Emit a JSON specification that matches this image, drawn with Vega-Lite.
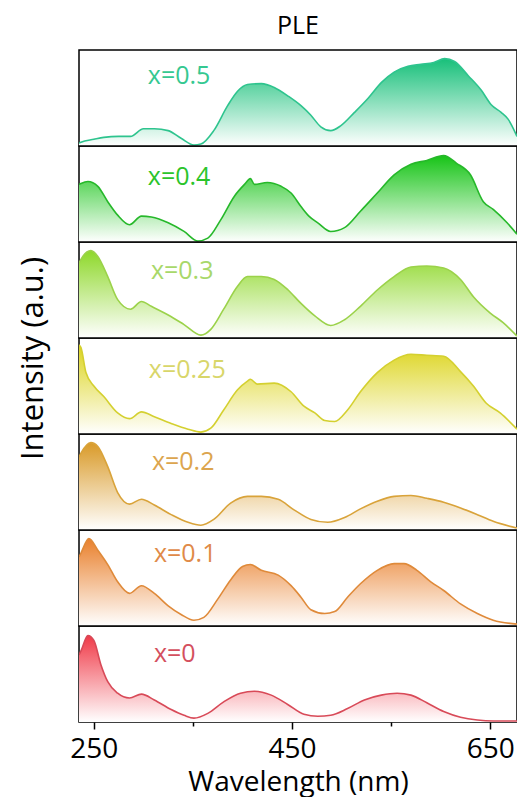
{
  "$schema": "https://vega.github.io/schema/vega-lite/v6.json",
  "padding": {"left": 16, "top": 13, "right": 0, "bottom": 0},
  "background": "white",
  "bounds": "flush",
  "spacing": 0,
  "config": {"view": {"stroke": "black", "strokeWidth": 1.5}, "font": "Open Sans"},
  "datasets": {
    "s05": [{"w":235,"v":0.03},{"w":237,"v":0.04},{"w":250,"v":0.07},{"w":260,"v":0.09},{"w":275,"v":0.10},{"w":287,"v":0.10},{"w":300,"v":0.18},{"w":311,"v":0.18},{"w":325,"v":0.16},{"w":338,"v":0.08},{"w":351,"v":0.01},{"w":358,"v":0.02},{"w":371,"v":0.16},{"w":385,"v":0.42},{"w":395,"v":0.57},{"w":405,"v":0.64},{"w":419,"v":0.65},{"w":432,"v":0.61},{"w":446,"v":0.52},{"w":459,"v":0.42},{"w":469,"v":0.32},{"w":479,"v":0.20},{"w":489,"v":0.16},{"w":499,"v":0.21},{"w":513,"v":0.35},{"w":527,"v":0.50},{"w":540,"v":0.66},{"w":553,"v":0.77},{"w":567,"v":0.83},{"w":580,"v":0.85},{"w":593,"v":0.87},{"w":604,"v":0.91},{"w":614,"v":0.88},{"w":628,"v":0.73},{"w":641,"v":0.58},{"w":651,"v":0.43},{"w":661,"v":0.35},{"w":668,"v":0.28},{"w":677,"v":0.10}],
    "s04": [{"w":235,"v":0.60},{"w":237,"v":0.61},{"w":244,"v":0.63},{"w":254,"v":0.58},{"w":264,"v":0.42},{"w":274,"v":0.28},{"w":286,"v":0.18},{"w":298,"v":0.27},{"w":308,"v":0.26},{"w":325,"v":0.20},{"w":341,"v":0.11},{"w":355,"v":0.01},{"w":365,"v":0.04},{"w":378,"v":0.23},{"w":392,"v":0.48},{"w":402,"v":0.60},{"w":408,"v":0.66},{"w":412,"v":0.60},{"w":425,"v":0.62},{"w":439,"v":0.58},{"w":449,"v":0.51},{"w":459,"v":0.37},{"w":467,"v":0.27},{"w":476,"v":0.20},{"w":489,"v":0.11},{"w":503,"v":0.15},{"w":519,"v":0.32},{"w":536,"v":0.51},{"w":553,"v":0.70},{"w":570,"v":0.81},{"w":586,"v":0.85},{"w":603,"v":0.90},{"w":616,"v":0.82},{"w":630,"v":0.70},{"w":643,"v":0.42},{"w":653,"v":0.34},{"w":667,"v":0.20},{"w":677,"v":0.08}],
    "s03": [{"w":235,"v":0.78},{"w":237,"v":0.82},{"w":247,"v":0.91},{"w":254,"v":0.85},{"w":264,"v":0.64},{"w":274,"v":0.40},{"w":287,"v":0.30},{"w":298,"v":0.38},{"w":308,"v":0.33},{"w":325,"v":0.24},{"w":341,"v":0.14},{"w":358,"v":0.03},{"w":368,"v":0.09},{"w":381,"v":0.30},{"w":395,"v":0.54},{"w":405,"v":0.64},{"w":419,"v":0.64},{"w":432,"v":0.61},{"w":446,"v":0.50},{"w":459,"v":0.36},{"w":473,"v":0.23},{"w":489,"v":0.13},{"w":503,"v":0.19},{"w":519,"v":0.33},{"w":536,"v":0.50},{"w":553,"v":0.64},{"w":570,"v":0.74},{"w":586,"v":0.75},{"w":603,"v":0.73},{"w":620,"v":0.61},{"w":633,"v":0.43},{"w":650,"v":0.26},{"w":663,"v":0.16},{"w":677,"v":0.02}],
    "s025": [{"w":235,"v":0.93},{"w":237,"v":0.90},{"w":242,"v":0.64},{"w":250,"v":0.50},{"w":260,"v":0.39},{"w":274,"v":0.22},{"w":286,"v":0.16},{"w":298,"v":0.23},{"w":311,"v":0.18},{"w":328,"v":0.11},{"w":345,"v":0.05},{"w":358,"v":0.02},{"w":368,"v":0.06},{"w":381,"v":0.25},{"w":395,"v":0.46},{"w":405,"v":0.55},{"w":408,"v":0.57},{"w":415,"v":0.52},{"w":432,"v":0.53},{"w":449,"v":0.44},{"w":462,"v":0.29},{"w":473,"v":0.22},{"w":483,"v":0.14},{"w":493,"v":0.13},{"w":506,"v":0.25},{"w":519,"v":0.44},{"w":536,"v":0.64},{"w":553,"v":0.77},{"w":570,"v":0.83},{"w":586,"v":0.82},{"w":603,"v":0.81},{"w":620,"v":0.65},{"w":633,"v":0.50},{"w":646,"v":0.32},{"w":660,"v":0.22},{"w":677,"v":0.05}],
    "s02": [{"w":235,"v":0.76},{"w":237,"v":0.80},{"w":247,"v":0.91},{"w":254,"v":0.87},{"w":264,"v":0.66},{"w":274,"v":0.39},{"w":286,"v":0.27},{"w":298,"v":0.32},{"w":311,"v":0.26},{"w":328,"v":0.16},{"w":345,"v":0.08},{"w":358,"v":0.05},{"w":371,"v":0.11},{"w":388,"v":0.28},{"w":405,"v":0.35},{"w":419,"v":0.35},{"w":436,"v":0.32},{"w":452,"v":0.21},{"w":469,"v":0.11},{"w":486,"v":0.08},{"w":503,"v":0.13},{"w":519,"v":0.22},{"w":536,"v":0.30},{"w":553,"v":0.35},{"w":570,"v":0.36},{"w":586,"v":0.33},{"w":603,"v":0.29},{"w":620,"v":0.23},{"w":637,"v":0.16},{"w":653,"v":0.09},{"w":677,"v":0.02}],
    "s01": [{"w":235,"v":0.72},{"w":237,"v":0.76},{"w":245,"v":0.91},{"w":254,"v":0.79},{"w":264,"v":0.64},{"w":274,"v":0.46},{"w":286,"v":0.34},{"w":298,"v":0.42},{"w":311,"v":0.34},{"w":325,"v":0.21},{"w":338,"v":0.12},{"w":351,"v":0.06},{"w":361,"v":0.09},{"w":375,"v":0.28},{"w":388,"v":0.48},{"w":400,"v":0.62},{"w":408,"v":0.64},{"w":419,"v":0.58},{"w":436,"v":0.53},{"w":449,"v":0.42},{"w":459,"v":0.30},{"w":469,"v":0.17},{"w":483,"v":0.13},{"w":493,"v":0.15},{"w":506,"v":0.30},{"w":519,"v":0.44},{"w":536,"v":0.58},{"w":553,"v":0.65},{"w":563,"v":0.65},{"w":576,"v":0.58},{"w":590,"v":0.46},{"w":603,"v":0.37},{"w":620,"v":0.23},{"w":637,"v":0.13},{"w":653,"v":0.06},{"w":677,"v":0.02}],
    "s00": [{"w":235,"v":0.70},{"w":237,"v":0.74},{"w":244,"v":0.90},{"w":250,"v":0.85},{"w":257,"v":0.60},{"w":264,"v":0.42},{"w":274,"v":0.30},{"w":286,"v":0.25},{"w":298,"v":0.29},{"w":311,"v":0.23},{"w":328,"v":0.13},{"w":341,"v":0.07},{"w":351,"v":0.04},{"w":365,"v":0.09},{"w":381,"v":0.21},{"w":398,"v":0.30},{"w":412,"v":0.32},{"w":429,"v":0.28},{"w":446,"v":0.18},{"w":462,"v":0.08},{"w":476,"v":0.06},{"w":489,"v":0.07},{"w":506,"v":0.14},{"w":523,"v":0.23},{"w":540,"v":0.28},{"w":556,"v":0.30},{"w":570,"v":0.28},{"w":586,"v":0.20},{"w":603,"v":0.11},{"w":620,"v":0.05},{"w":637,"v":0.02},{"w":653,"v":0.01},{"w":677,"v":0.01}],
    "labels": [{"s":"0.5","label":"x=0.5"},{"s":"0.4","label":"x=0.4"},{"s":"0.3","label":"x=0.3"},{"s":"0.25","label":"x=0.25"},{"s":"0.2","label":"x=0.2"},{"s":"0.1","label":"x=0.1"},{"s":"0","label":"x=0"}]
  },
  "vconcat": [
    {
      "width": 438, "height": 96,
      "title": {"text": "PLE", "fontSize": 25, "font": "Open Sans", "fontWeight": "normal", "color": "black", "offset": 11},
      "layer": [
        {"data": {"name": "s05"}, "mark": {"type": "area", "interpolate": "monotone", "clip": true, "fill": {"gradient": "linear", "x1": 0, "y1": 0, "x2": 0, "y2": 1, "stops": [{"offset": 0, "color": "#18c07a"}, {"offset": 1, "color": "#ffffff"}]}},
         "encoding": {"x": {"field": "w", "type": "quantitative", "scale": {"domain": [235, 677], "nice": false, "zero": false}, "axis": null}, "y": {"field": "v", "type": "quantitative", "scale": {"domain": [0, 1], "nice": false}, "axis": null}}},
        {"data": {"name": "s05"}, "mark": {"type": "line", "interpolate": "monotone", "clip": true, "color": "#2ec48e", "strokeWidth": 1.6},
         "encoding": {"x": {"field": "w", "type": "quantitative"}, "y": {"field": "v", "type": "quantitative"}}},
        {"data": {"name": "labels"}, "transform": [{"filter": "datum.s == '0.5'"}], "mark": {"type": "text", "align": "left", "baseline": "middle", "font": "Open Sans", "fontSize": 25, "color": "#35c891"},
         "encoding": {"x": {"datum": 304.5, "type": "quantitative"}, "y": {"datum": 0.73, "type": "quantitative"}, "text": {"field": "label", "type": "nominal"}}}
      ]
    },
    {
      "width": 438, "height": 96,
      "layer": [
        {"data": {"name": "s04"}, "mark": {"type": "area", "interpolate": "monotone", "clip": true, "fill": {"gradient": "linear", "x1": 0, "y1": 0, "x2": 0, "y2": 1, "stops": [{"offset": 0, "color": "#17c417"}, {"offset": 1, "color": "#ffffff"}]}},
         "encoding": {"x": {"field": "w", "type": "quantitative", "scale": {"domain": [235, 677], "nice": false, "zero": false}, "axis": null}, "y": {"field": "v", "type": "quantitative", "scale": {"domain": [0, 1], "nice": false}, "axis": null}}},
        {"data": {"name": "s04"}, "mark": {"type": "line", "interpolate": "monotone", "clip": true, "color": "#26b82a", "strokeWidth": 1.6},
         "encoding": {"x": {"field": "w", "type": "quantitative"}, "y": {"field": "v", "type": "quantitative"}}},
        {"data": {"name": "labels"}, "transform": [{"filter": "datum.s == '0.4'"}], "mark": {"type": "text", "align": "left", "baseline": "middle", "font": "Open Sans", "fontSize": 25, "color": "#2bc42b"},
         "encoding": {"x": {"datum": 304.5, "type": "quantitative"}, "y": {"datum": 0.68, "type": "quantitative"}, "text": {"field": "label", "type": "nominal"}}}
      ]
    },
    {
      "width": 438, "height": 96,
      "layer": [
        {"data": {"name": "s03"}, "mark": {"type": "area", "interpolate": "monotone", "clip": true, "fill": {"gradient": "linear", "x1": 0, "y1": 0, "x2": 0, "y2": 1, "stops": [{"offset": 0, "color": "#8ed82a"}, {"offset": 1, "color": "#ffffff"}]}},
         "encoding": {"x": {"field": "w", "type": "quantitative", "scale": {"domain": [235, 677], "nice": false, "zero": false}, "axis": null}, "y": {"field": "v", "type": "quantitative", "scale": {"domain": [0, 1], "nice": false}, "axis": null}}},
        {"data": {"name": "s03"}, "mark": {"type": "line", "interpolate": "monotone", "clip": true, "color": "#9bd24a", "strokeWidth": 1.6},
         "encoding": {"x": {"field": "w", "type": "quantitative"}, "y": {"field": "v", "type": "quantitative"}}},
        {"data": {"name": "labels"}, "transform": [{"filter": "datum.s == '0.3'"}], "mark": {"type": "text", "align": "left", "baseline": "middle", "font": "Open Sans", "fontSize": 25, "color": "#a8d86a"},
         "encoding": {"x": {"datum": 307.6, "type": "quantitative"}, "y": {"datum": 0.70, "type": "quantitative"}, "text": {"field": "label", "type": "nominal"}}}
      ]
    },
    {
      "width": 438, "height": 96,
      "layer": [
        {"data": {"name": "s025"}, "mark": {"type": "area", "interpolate": "monotone", "clip": true, "fill": {"gradient": "linear", "x1": 0, "y1": 0, "x2": 0, "y2": 1, "stops": [{"offset": 0, "color": "#dcd41c"}, {"offset": 1, "color": "#ffffff"}]}},
         "encoding": {"x": {"field": "w", "type": "quantitative", "scale": {"domain": [235, 677], "nice": false, "zero": false}, "axis": null}, "y": {"field": "v", "type": "quantitative", "scale": {"domain": [0, 1], "nice": false}, "axis": {"title": "Intensity (a.u.)", "labels": false, "ticks": false, "domain": false, "grid": false, "titleFont": "Open Sans", "titleFontSize": 31, "titleFontWeight": "normal", "titleColor": "black", "titlePadding": 30, "titleY": 20}}}},
        {"data": {"name": "s025"}, "mark": {"type": "line", "interpolate": "monotone", "clip": true, "color": "#d4d030", "strokeWidth": 1.6},
         "encoding": {"x": {"field": "w", "type": "quantitative"}, "y": {"field": "v", "type": "quantitative"}}},
        {"data": {"name": "labels"}, "transform": [{"filter": "datum.s == '0.25'"}], "mark": {"type": "text", "align": "left", "baseline": "middle", "font": "Open Sans", "fontSize": 25, "color": "#d8d66a"},
         "encoding": {"x": {"datum": 305.5, "type": "quantitative"}, "y": {"datum": 0.67, "type": "quantitative"}, "text": {"field": "label", "type": "nominal"}}}
      ]
    },
    {
      "width": 438, "height": 96,
      "layer": [
        {"data": {"name": "s02"}, "mark": {"type": "area", "interpolate": "monotone", "clip": true, "fill": {"gradient": "linear", "x1": 0, "y1": 0, "x2": 0, "y2": 1, "stops": [{"offset": 0, "color": "#d99a28"}, {"offset": 1, "color": "#ffffff"}]}},
         "encoding": {"x": {"field": "w", "type": "quantitative", "scale": {"domain": [235, 677], "nice": false, "zero": false}, "axis": null}, "y": {"field": "v", "type": "quantitative", "scale": {"domain": [0, 1], "nice": false}, "axis": null}}},
        {"data": {"name": "s02"}, "mark": {"type": "line", "interpolate": "monotone", "clip": true, "color": "#d9a33a", "strokeWidth": 1.6},
         "encoding": {"x": {"field": "w", "type": "quantitative"}, "y": {"field": "v", "type": "quantitative"}}},
        {"data": {"name": "labels"}, "transform": [{"filter": "datum.s == '0.2'"}], "mark": {"type": "text", "align": "left", "baseline": "middle", "font": "Open Sans", "fontSize": 25, "color": "#dca54e"},
         "encoding": {"x": {"datum": 308.6, "type": "quantitative"}, "y": {"datum": 0.71, "type": "quantitative"}, "text": {"field": "label", "type": "nominal"}}}
      ]
    },
    {
      "width": 438, "height": 96,
      "layer": [
        {"data": {"name": "s01"}, "mark": {"type": "area", "interpolate": "monotone", "clip": true, "fill": {"gradient": "linear", "x1": 0, "y1": 0, "x2": 0, "y2": 1, "stops": [{"offset": 0, "color": "#e9802c"}, {"offset": 1, "color": "#ffffff"}]}},
         "encoding": {"x": {"field": "w", "type": "quantitative", "scale": {"domain": [235, 677], "nice": false, "zero": false}, "axis": null}, "y": {"field": "v", "type": "quantitative", "scale": {"domain": [0, 1], "nice": false}, "axis": null}}},
        {"data": {"name": "s01"}, "mark": {"type": "line", "interpolate": "monotone", "clip": true, "color": "#df8a3a", "strokeWidth": 1.6},
         "encoding": {"x": {"field": "w", "type": "quantitative"}, "y": {"field": "v", "type": "quantitative"}}},
        {"data": {"name": "labels"}, "transform": [{"filter": "datum.s == '0.1'"}], "mark": {"type": "text", "align": "left", "baseline": "middle", "font": "Open Sans", "fontSize": 25, "color": "#e08a48"},
         "encoding": {"x": {"datum": 310.6, "type": "quantitative"}, "y": {"datum": 0.755, "type": "quantitative"}, "text": {"field": "label", "type": "nominal"}}}
      ]
    },
    {
      "width": 438, "height": 96,
      "layer": [
        {"data": {"name": "s00"}, "mark": {"type": "area", "interpolate": "monotone", "clip": true, "fill": {"gradient": "linear", "x1": 0, "y1": 0, "x2": 0, "y2": 1, "stops": [{"offset": 0, "color": "#f03a48"}, {"offset": 1, "color": "#ffffff"}]}},
         "encoding": {"x": {"field": "w", "type": "quantitative", "scale": {"domain": [235, 677], "nice": false, "zero": false}, "axis": {"values": [250, 350, 450, 550, 650], "labelExpr": "datum.value == 350 || datum.value == 550 ? '' : datum.label", "tickSize": {"condition": {"test": "datum.value == 350 || datum.value == 550", "value": 4}, "value": 7}, "tickWidth": 1.5, "tickColor": "black", "domain": false, "grid": false, "labelFont": "Open Sans", "labelFontSize": 28, "labelColor": "black", "labelPadding": 6, "title": "Wavelength (nm)", "titleFont": "Open Sans", "titleFontSize": 28, "titleFontWeight": "normal", "titleColor": "black", "titlePadding": 5}}, "y": {"field": "v", "type": "quantitative", "scale": {"domain": [0, 1], "nice": false}, "axis": null}}},
        {"data": {"name": "s00"}, "mark": {"type": "line", "interpolate": "monotone", "clip": true, "color": "#d84a58", "strokeWidth": 1.6},
         "encoding": {"x": {"field": "w", "type": "quantitative"}, "y": {"field": "v", "type": "quantitative"}}},
        {"data": {"name": "labels"}, "transform": [{"filter": "datum.s == '0'"}], "mark": {"type": "text", "align": "left", "baseline": "middle", "font": "Open Sans", "fontSize": 25, "color": "#d4505e"},
         "encoding": {"x": {"datum": 310.6, "type": "quantitative"}, "y": {"datum": 0.71, "type": "quantitative"}, "text": {"field": "label", "type": "nominal"}}}
      ]
    }
  ]
}
